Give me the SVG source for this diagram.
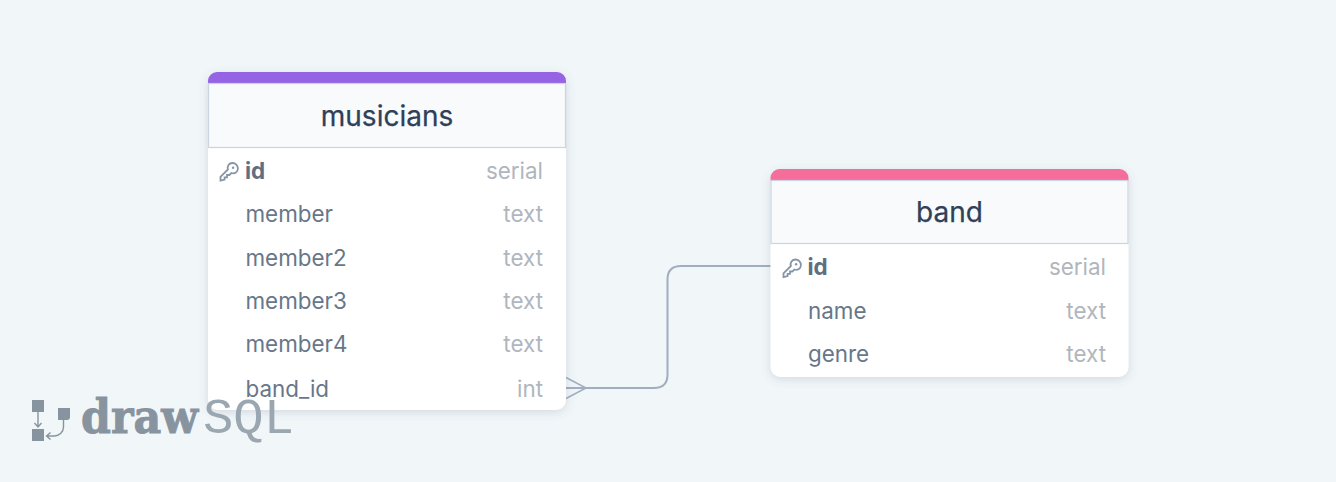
<svg xmlns="http://www.w3.org/2000/svg" width="1336" height="482" viewBox="0 0 1336 482">
<style>
text{font-family:Inter,"Noto Sans",sans-serif}
.title{font-size:28px;fill:#2f4058;text-anchor:middle;font-weight:400;stroke:#2f4058;stroke-width:.25}
.col{font-size:22.400px;fill:#67778a}
.pk{font-size:22.400px;fill:#5f6f82;font-weight:700}
.typ{font-size:22.400px;fill:#b0b6bd;text-anchor:end}
.hd{fill:#f8fafc;stroke:#cbd5e1;stroke-width:1.200}
.card{fill:#fff;filter:url(#sh)}
.key{fill:none;stroke:#8595a6;stroke-width:1.800}
.conn{fill:none;stroke:#a0aec0;stroke-width:2}
.thin{stroke-width:1.500}
</style>
<defs>
<filter id="sh" x="-10%" y="-10%" width="120%" height="125%"><feDropShadow dx="0" dy="2" stdDeviation="5" flood-color="#5a6b80" flood-opacity="0.22"/></filter>
<g id="keyicon"><path class="key" d="M0 17.500v-3.600l7.400-7.400c-1.200-3.400 1.200-6.500 4.600-6.500 3 0 5.400 2.400 5.400 5.400 0 3.400-3.200 5.800-6.500 4.600l-2 2h-2.400v2.400h-2.400v2.100z"/><circle cx="12.600" cy="4.800" r="1.200" fill="#8595a6"/></g>
</defs>
<rect width="1336" height="482" fill="#f1f6f9"/>
<g id="connectors"><path class="conn" d="M566 388H654Q667.500 388 667.500 374.500V279.500Q667.500 266 681 266H771"/><path class="conn thin" d="M566 377.500L586 388L566 398.500"/></g>
<g id="musicians">
<rect class="card" x="208" y="73" width="358" height="337" rx="10"/>
<path fill="#9563e4" d="M208 84V81a9 9 0 0 1 9-9H557a9 9 0 0 1 9 9V84z"/>
<rect class="hd" x="208.500" y="83.500" width="357" height="64"/>
<text class="title" x="387" y="126">musicians</text>
<use href="#keyicon" x="220.500" y="163"/>
<text class="pk" x="245" y="179">id</text><text class="typ" x="543" y="179">serial</text>
<text class="col" x="245.500" y="222">member</text><text class="typ" x="543" y="222">text</text>
<text class="col" x="245.500" y="266">member2</text><text class="typ" x="543" y="266">text</text>
<text class="col" x="245.500" y="309">member3</text><text class="typ" x="543" y="309">text</text>
<text class="col" x="245.500" y="352">member4</text><text class="typ" x="543" y="352">text</text>
<text class="col" x="245.500" y="397">band_id</text><text class="typ" x="543" y="397">int</text>
</g>
<g id="band">
<rect class="card" x="770.500" y="170" width="358" height="207" rx="10"/>
<path fill="#f56e9b" d="M770.500 181V178a9 9 0 0 1 9-9H1119.500a9 9 0 0 1 9 9V181z"/>
<rect class="hd" x="771" y="180.500" width="357" height="63"/>
<text class="title" x="949.500" y="222">band</text>
<use href="#keyicon" x="783.500" y="259.500"/>
<text class="pk" x="807.500" y="275">id</text><text class="typ" x="1106" y="275">serial</text>
<text class="col" x="808" y="319">name</text><text class="typ" x="1106" y="319">text</text>
<text class="col" x="808" y="362">genre</text><text class="typ" x="1106" y="362">text</text>
</g>
<g id="logo">
<g fill="#87949f"><rect x="32" y="400" width="12" height="12"/><rect x="32" y="429" width="12" height="12"/><path d="M58 408h12v9c0 2-1 3-3 3h-9z"/></g>
<path fill="none" stroke="#87949f" stroke-width="1.400" d="M38 412v14M34.500 423l3.500 4 3.500-4M63.500 420v7a9 9 0 0 1-9 9H47M50.500 432.500l-4 3.500 4 3.500"/>
<text x="81" y="433" font-size="46" font-weight="700" fill="#87949f" stroke="#87949f" stroke-width="1" style="font-family:'DejaVu Serif',serif" textLength="117" lengthAdjust="spacingAndGlyphs">draw</text>
<text x="203" y="433" font-size="50" font-weight="400" fill="#9aa6b0" style="font-family:'Liberation Mono',monospace" textLength="91" lengthAdjust="spacingAndGlyphs">SQL</text>
</g>
</svg>
